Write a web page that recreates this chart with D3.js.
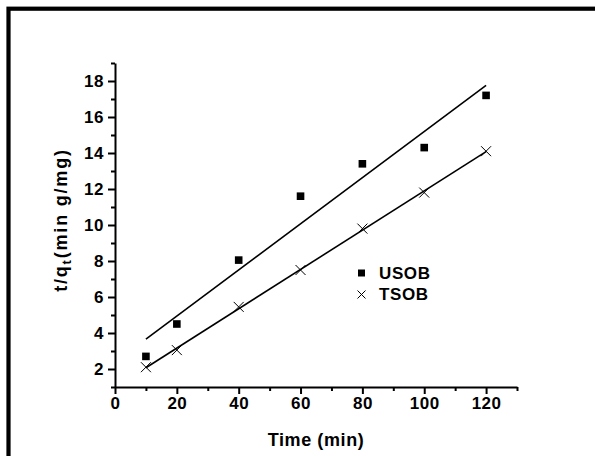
<!DOCTYPE html>
<html>
<head>
<meta charset="utf-8">
<script src="https://cdn.jsdelivr.net/npm/d3@7"></script>
<style>
  html, body { margin: 0; padding: 0; background: #fff; }
  svg { display: block; font-family: "Liberation Sans", Arial, sans-serif; font-weight: bold; }
</style>
</head>
<body>
<svg id="chart" width="595" height="456"></svg>
<script>
// values
const times = [10, 20, 40, 60, 80, 100, 120];
const usob = [2.7, 4.5, 8.05, 11.6, 13.4, 14.3, 17.2];
const tsob = [2.1, 3.05, 5.45, 7.5, 9.8, 11.8, 14.1];
const xTicks = [0, 20, 40, 60, 80, 100, 120];
const yTicks = [2, 4, 6, 8, 10, 12, 14, 16, 18];

const svg = d3.select('#chart');

// outer frame, runs off the right and bottom edge
svg.append('rect')
  .attr('x', 8.5).attr('y', 8.7)
  .attr('width', 700).attr('height', 600)
  .attr('fill', 'none').attr('stroke', '#000').attr('stroke-width', 4.2);

const x = d3.scaleLinear().domain([0, 130]).range([115, 517]);
const y = d3.scaleLinear().domain([1, 19]).range([387, 63]);

// linear fit
function fit(xs, ys){
  const mx = d3.mean(xs), my = d3.mean(ys);
  const sxy = d3.sum(xs, (v,i)=>(v-mx)*(ys[i]-my));
  const sxx = d3.sum(xs, v=>(v-mx)*(v-mx));
  const b = sxy/sxx;
  return t => my + b*(t-mx);
}

svg.append('g').attr('transform', `translate(0,${y(1)})`)
  .call(d3.axisBottom(x).tickValues(xTicks).tickSize(7).tickSizeOuter(0).tickPadding(3));
const xMinor = svg.append('g').attr('transform', `translate(0,${y(1)})`)
  .call(d3.axisBottom(x).tickValues(d3.range(10, 131, 20)).tickSize(4).tickFormat('').tickSizeOuter(0));
xMinor.select('.domain').remove();

svg.append('g').attr('transform', `translate(${x(0)},0)`)
  .call(d3.axisLeft(y).tickValues(yTicks).tickSize(7).tickSizeOuter(0).tickPadding(4));
const yMinor = svg.append('g').attr('transform', `translate(${x(0)},0)`)
  .call(d3.axisLeft(y).tickValues(d3.range(1, 20, 2)).tickSize(4).tickFormat('').tickSizeOuter(0));
yMinor.select('.domain').remove();

svg.selectAll('.domain, .tick line').attr('stroke', '#000').attr('stroke-width', 2);
svg.selectAll('.tick text').attr('fill', '#000').attr('font-size', 17).attr('font-weight', 'bold')
  .attr('letter-spacing', 0.5)
  .attr('font-family', '"Liberation Sans", Arial, sans-serif');

// axis titles
svg.append('text')
  .attr('x', 316).attr('y', 446)
  .attr('text-anchor', 'middle').attr('font-size', 18).attr('letter-spacing', 0.6)
  .text('Time (min)');

const yl = svg.append('text')
  .attr('transform', 'translate(67,220) rotate(-90)')
  .attr('text-anchor', 'middle').attr('font-size', 18).attr('letter-spacing', 1.8);
yl.append('tspan').text('t/q');
yl.append('tspan').attr('font-size', 13).attr('dy', 4).text('t');
yl.append('tspan').attr('dy', -4).text('(min g/mg)');

// fitted lines
const series = [
  {name: 'USOB', ys: usob},
  {name: 'TSOB', ys: tsob}
];
series.forEach(s => {
  const f = fit(times, s.ys);
  svg.append('line')
    .attr('x1', x(times[0])).attr('y1', y(f(times[0])))
    .attr('x2', x(times[times.length-1])).attr('y2', y(f(times[times.length-1])))
    .attr('stroke', '#000').attr('stroke-width', 1.6);
});

// USOB squares
svg.append('g').selectAll('rect').data(times).enter().append('rect')
  .attr('x', (d)=>x(d)-3.8).attr('y', (d,i)=>y(usob[i])-3.8)
  .attr('width', 7.6).attr('height', 7.6).attr('fill', '#000');

// TSOB crosses
const cross = 'M-5,-5L5,5M-5,5L5,-5';
svg.append('g').selectAll('path').data(times).enter().append('path')
  .attr('transform', (d,i)=>`translate(${x(d)},${y(tsob[i])})`)
  .attr('d', cross).attr('stroke', '#000').attr('stroke-width', 1).attr('fill', 'none');

// legend
const lg = svg.append('g');
lg.append('rect').attr('x', 358).attr('y', 269.5).attr('width', 7).attr('height', 7).attr('fill', '#000');
lg.append('text').attr('x', 379).attr('y', 279).attr('font-size', 17).attr('letter-spacing', 0.6).text('USOB');
lg.append('path').attr('transform', 'translate(361.5,294.5)').attr('d', 'M-4,-4L4,4M-4,4L4,-4')
  .attr('stroke', '#000').attr('stroke-width', 1).attr('fill', 'none');
lg.append('text').attr('x', 379).attr('y', 300).attr('font-size', 17).attr('letter-spacing', 0.6).text('TSOB');
</script>
</body>
</html>
